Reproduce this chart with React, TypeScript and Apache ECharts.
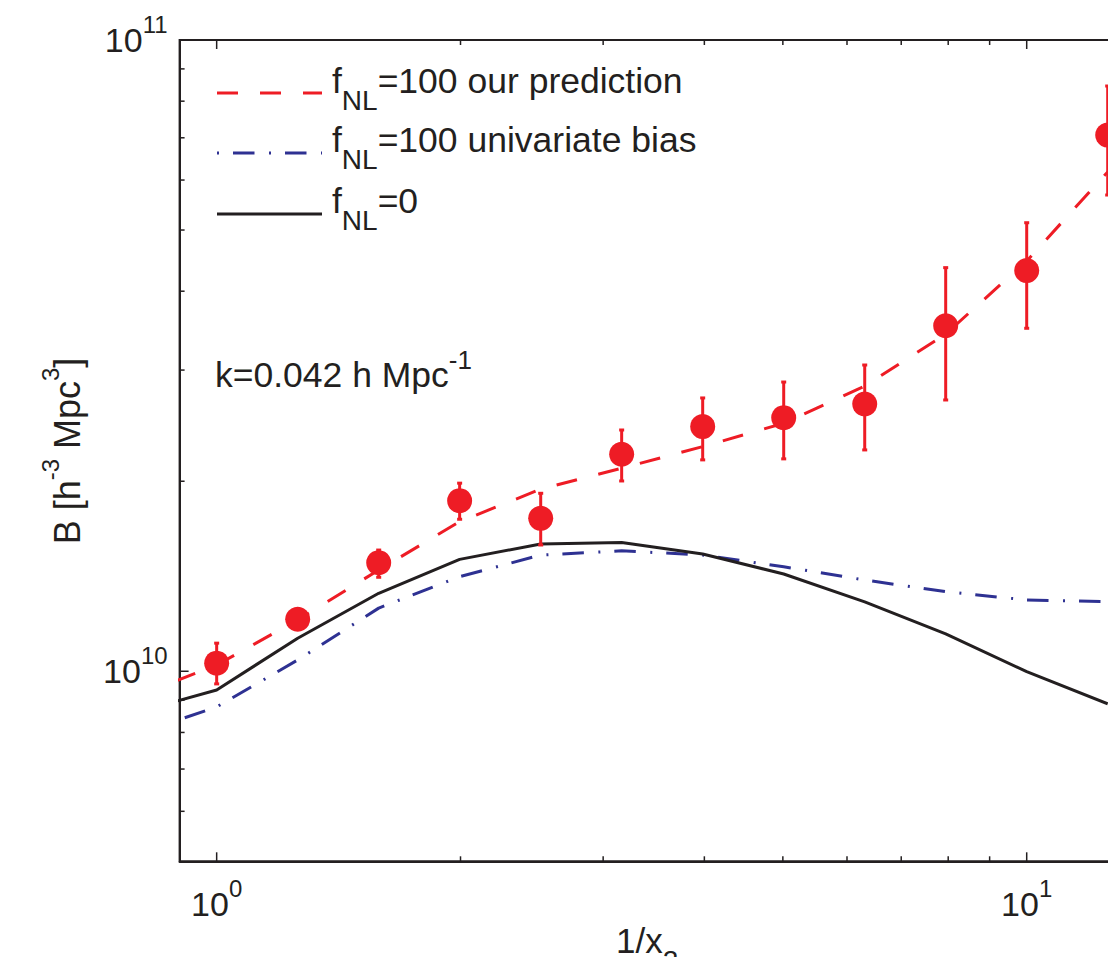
import React, { useEffect, useRef } from "react";
import * as echarts from "echarts";

const FONT = "'Liberation Sans', Arial, Helvetica, sans-serif";
const INK = "#231f20";
const RED = "#ee1c25";
const BLUE = "#2e3192";

const X_MIN = 0.9;
const X_MAX = 12.65;
const Y_MIN = 5e9;
const Y_MAX = 1e11;

// model curves, sampled at 1/x2 = 10^(n/10)
const THEORY_X = [0.794, 1, 1.259, 1.585, 1.995, 2.512, 3.162, 3.981, 5.012, 6.31, 7.943, 10, 12.589];
const PREDICTION = [0.912e10, 1.023e10, 1.206e10, 1.447e10, 1.726e10, 1.943e10, 2.097e10, 2.269e10, 2.471e10, 2.83e10, 3.422e10, 4.466e10, 6.18e10];
const UNIVARIATE = [0.794e10, 0.878e10, 1.042e10, 1.259e10, 1.412e10, 1.528e10, 1.552e10, 1.528e10, 1.464e10, 1.395e10, 1.337e10, 1.297e10, 1.289e10];
const GAUSSIAN = [0.86e10, 0.934e10, 1.128e10, 1.329e10, 1.504e10, 1.591e10, 1.599e10, 1.534e10, 1.426e10, 1.288e10, 1.146e10, 0.9986e10, 0.888e10];

// measured bispectrum with its error range
const MEASURED_X = [1, 1.259, 1.585, 1.995, 2.512, 3.162, 3.981, 5.012, 6.31, 7.943, 10, 12.589];
const MEASURED_B = [1.03e10, 1.209e10, 1.486e10, 1.863e10, 1.747e10, 2.207e10, 2.441e10, 2.522e10, 2.651e10, 3.527e10, 4.312e10, 7.07e10];
const ERR_LOW = [0.955e10, 1.17e10, 1.409e10, 1.741e10, 1.585e10, 2.002e10, 2.162e10, 2.17e10, 2.242e10, 2.69e10, 3.494e10, 5.681e10];
const ERR_HIGH = [1.108e10, 1.25e10, 1.556e10, 1.986e10, 1.914e10, 2.411e10, 2.71e10, 2.872e10, 3.056e10, 4.359e10, 5.135e10, 8.455e10];

// tick positions
const X_MAJOR_TICKS = [1, 10];
const X_MINOR_TICKS = [2, 3, 4, 5, 6, 7, 8, 9];
const Y_MAJOR_TICKS = [1e10, 1e11];
const Y_MINOR_TICKS = [6e9, 7e9, 8e9, 9e9, 2e10, 3e10, 4e10, 5e10, 6e10, 7e10, 8e10, 9e10];

const LEGEND_LABELS = ["=100 our prediction", "=100 univariate bias", "=0"];

const decadeLabel = (v: number) => {
  const p = Math.log10(v);
  const e = Math.round(p);
  if (Math.abs(p - e) > 1e-6) return "";
  return `{b|10}{e|${e}}`;
};

const tickRich = {
  b: { fontSize: 34, height: 34, fontFamily: FONT, color: INK },
  e: { fontSize: 24, height: 24, fontFamily: FONT, color: INK, padding: [0, 0, 32, 0] },
};

export default function App() {
  const ref = useRef<HTMLDivElement>(null);

  useEffect(() => {
    const el = ref.current;
    if (!el) return;
    const chart = echarts.init(el, undefined, { renderer: "svg" });

    const tickData: number[][] = [
      ...X_MAJOR_TICKS.map((v) => [v, Y_MIN, 9, 0]),
      ...X_MINOR_TICKS.map((v) => [v, Y_MIN, 5, 0]),
      ...Y_MAJOR_TICKS.map((v) => [X_MIN, v, 9, 1]),
      ...Y_MINOR_TICKS.map((v) => [X_MIN, v, 5, 1]),
    ];
    const tickStyle = { stroke: INK, lineWidth: 1.5 };

    const legendRow = (y: number, label: string) => ({
      type: "text",
      x: 332,
      y,
      silent: true,
      style: {
        text: `{m|f}{s|NL}{m|${label}}`,
        verticalAlign: "middle",
        align: "left",
        rich: {
          m: { fontSize: 35.5, height: 35, fontFamily: FONT, fill: INK },
          s: { fontSize: 28, height: 28, fontFamily: FONT, fill: INK, padding: [39, 0, 0, 0] },
        },
      },
    });

    chart.setOption({
      animation: false,
      grid: {
        left: 179.6,
        top: 40,
        width: 929.8,
        height: 821.3,
        show: true,
        borderColor: INK,
        borderWidth: 2,
        backgroundColor: "transparent",
      },
      xAxis: {
        type: "log",
        logBase: 10,
        min: X_MIN,
        max: X_MAX,
        axisLine: { show: true, lineStyle: { color: INK, width: 2 } },
        axisTick: { show: false },
        minorTick: { show: false },
        splitLine: { show: false },
        axisLabel: { margin: 15, formatter: decadeLabel, rich: tickRich },
      },
      yAxis: {
        type: "log",
        logBase: 10,
        min: Y_MIN,
        max: Y_MAX,
        axisLine: { show: true, lineStyle: { color: INK, width: 2 } },
        axisTick: { show: false },
        minorTick: { show: false },
        splitLine: { show: false },
        axisLabel: { margin: 12, formatter: decadeLabel, rich: tickRich },
      },
      series: [
        {
          type: "line",
          name: "prediction",
          data: THEORY_X.map((x, i) => [x, PREDICTION[i]]),
          symbol: "none",
          silent: true,
          z: 2,
          lineStyle: { color: RED, width: 3, type: [21, 22] },
        },
        {
          type: "line",
          name: "univariate",
          data: THEORY_X.map((x, i) => [x, UNIVARIATE[i]]),
          symbol: "none",
          silent: true,
          z: 2,
          lineStyle: { color: BLUE, width: 3, type: [21.5, 14.5, 2, 14] },
        },
        {
          type: "line",
          name: "gaussian",
          data: THEORY_X.map((x, i) => [x, GAUSSIAN[i]]),
          symbol: "none",
          silent: true,
          z: 2,
          lineStyle: { color: INK, width: 3 },
        },
        {
          type: "custom",
          name: "errors",
          silent: true,
          z: 3,
          encode: { x: 0, y: [1, 2] },
          data: MEASURED_X.map((x, i) => [x, ERR_LOW[i], ERR_HIGH[i]]),
          renderItem: (_params: any, api: any) => {
            const lo = api.coord([api.value(0), api.value(1)]);
            const hi = api.coord([api.value(0), api.value(2)]);
            const st = { stroke: RED, lineWidth: 3 };
            return {
              type: "group",
              children: [
                { type: "line", shape: { x1: lo[0], y1: lo[1], x2: hi[0], y2: hi[1] }, style: st },
                { type: "line", shape: { x1: lo[0] - 2.5, y1: lo[1], x2: lo[0] + 2.5, y2: lo[1] }, style: st },
                { type: "line", shape: { x1: hi[0] - 2.5, y1: hi[1], x2: hi[0] + 2.5, y2: hi[1] }, style: st },
              ],
            };
          },
        },
        {
          type: "scatter",
          name: "measured",
          data: MEASURED_X.map((x, i) => [x, MEASURED_B[i]]),
          symbol: "circle",
          symbolSize: 25,
          silent: true,
          z: 4,
          itemStyle: { color: RED, opacity: 1 },
        },
        {
          type: "custom",
          name: "ticks",
          silent: true,
          z: 5,
          encode: { x: 0, y: 1 },
          data: tickData,
          renderItem: (_params: any, api: any) => {
            const len = api.value(2);
            if (api.value(3) === 0) {
              const b = api.coord([api.value(0), Y_MIN]);
              const t = api.coord([api.value(0), Y_MAX]);
              return {
                type: "group",
                children: [
                  { type: "line", shape: { x1: b[0], y1: b[1], x2: b[0], y2: b[1] - len }, style: tickStyle },
                  { type: "line", shape: { x1: t[0], y1: t[1], x2: t[0], y2: t[1] + len }, style: tickStyle },
                ],
              };
            }
            const l = api.coord([X_MIN, api.value(1)]);
            return { type: "line", shape: { x1: l[0], y1: l[1], x2: l[0] + len, y2: l[1] }, style: tickStyle };
          },
        },
      ],
      graphic: [
        // legend keys
        { type: "line", silent: true, shape: { x1: 217, y1: 93, x2: 322, y2: 93 }, style: { stroke: RED, lineWidth: 3, lineDash: [21, 22] } },
        { type: "line", silent: true, shape: { x1: 217, y1: 153, x2: 322, y2: 153 }, style: { stroke: BLUE, lineWidth: 3, lineDash: [2, 14, 21.5, 14.5] } },
        { type: "line", silent: true, shape: { x1: 217, y1: 214, x2: 322, y2: 214 }, style: { stroke: INK, lineWidth: 3 } },
        legendRow(81, LEGEND_LABELS[0]),
        legendRow(140, LEGEND_LABELS[1]),
        legendRow(201, LEGEND_LABELS[2]),
        // wavenumber annotation
        {
          type: "text",
          x: 215,
          y: 375,
          silent: true,
          style: {
            text: "{m|k=0.042 h Mpc}{e|-1}",
            verticalAlign: "middle",
            align: "left",
            rich: {
              m: { fontSize: 35.5, height: 35, fontFamily: FONT, fill: INK },
              e: { fontSize: 26, height: 26, fontFamily: FONT, fill: INK, padding: [0, 0, 30, 0] },
            },
          },
        },
        // y axis title
        {
          type: "text",
          x: 67,
          y: 451,
          rotation: Math.PI / 2,
          silent: true,
          style: {
            text: "{m|B [h}{e|-3}{m| Mpc}{e|3}{m|]}",
            verticalAlign: "middle",
            align: "center",
            rich: {
              m: { fontSize: 36, height: 36, fontFamily: FONT, fill: INK },
              e: { fontSize: 24, height: 24, fontFamily: FONT, fill: INK, padding: [0, 0, 33, 0] },
            },
          },
        },
        // x axis title
        {
          type: "text",
          x: 616,
          y: 940.5,
          silent: true,
          style: {
            text: "{m|1/x}{s|2}",
            verticalAlign: "middle",
            align: "left",
            rich: {
              m: { fontSize: 35, height: 35, fontFamily: FONT, fill: INK },
              s: { fontSize: 28, height: 28, fontFamily: FONT, fill: INK, padding: [39, 0, 0, 0] },
            },
          },
        },
      ],
    });

    return () => chart.dispose();
  }, []);

  return (
    <div
      style={{
        position: "fixed",
        left: 0,
        top: 0,
        width: 1108,
        height: 957,
        overflow: "hidden",
        background: "#ffffff",
      }}
    >
      <div ref={ref} style={{ width: 1120, height: 957 }} />
    </div>
  );
}
